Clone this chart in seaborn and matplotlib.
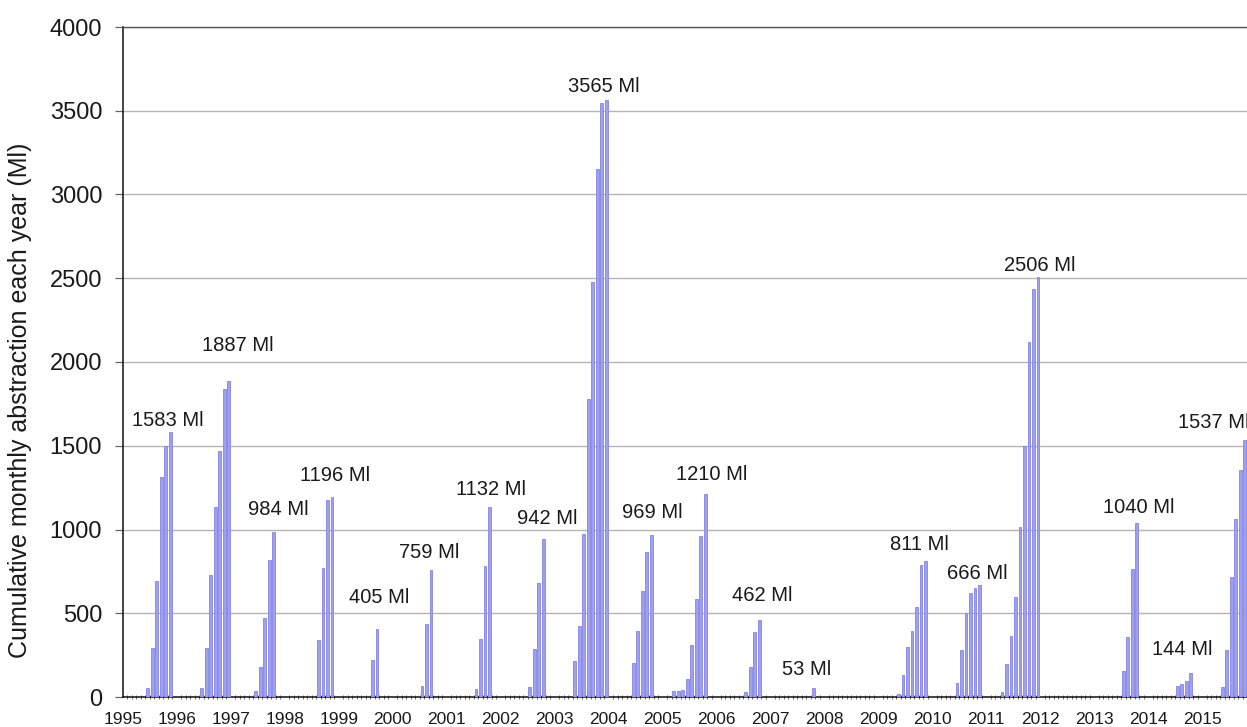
import numpy as np
import pandas as pd
import matplotlib
matplotlib.use("Agg")
import matplotlib.pyplot as plt
from matplotlib.ticker import MultipleLocator
import seaborn as sns

# Cumulative monthly abstraction (Ml), Jan..Dec for each year
years = list(range(1995, 2016))
abs_1995 = [0, 0, 0, 0, 0, 55, 290, 690, 1315, 1500, 1583, 0]
abs_1996 = [0, 0, 0, 0, 0, 55, 290, 728, 1134, 1469, 1839, 1887]
abs_1997 = [0, 0, 0, 0, 0, 35, 179, 472, 818, 984, 0, 0]
abs_1998 = [0, 0, 0, 0, 0, 0, 0, 340, 770, 1176, 1196, 0]
abs_1999 = [0, 0, 0, 0, 0, 0, 0, 221, 405, 0, 0, 0]
abs_2000 = [0, 0, 0, 0, 0, 0, 66, 436, 759, 0, 0, 0]
abs_2001 = [0, 0, 0, 0, 0, 0, 48, 346, 782, 1132, 0, 0]
abs_2002 = [0, 0, 0, 0, 0, 0, 60, 285, 680, 942, 0, 0]
abs_2003 = [0, 0, 0, 0, 215, 425, 975, 1782, 2475, 3150, 3545, 3565]
abs_2004 = [0, 0, 0, 0, 0, 201, 394, 635, 864, 969, 0, 0]
abs_2005 = [0, 0, 35, 37, 40, 105, 310, 585, 961, 1210, 0, 0]
abs_2006 = [0, 0, 0, 0, 0, 0, 31, 181, 386, 462, 0, 0]
abs_2007 = [0, 0, 0, 0, 0, 0, 0, 0, 0, 53, 0, 0]
abs_2008 = [0] * 12
abs_2009 = [0, 0, 0, 0, 20, 131, 300, 392, 535, 790, 811, 0]
abs_2010 = [0, 0, 0, 0, 0, 85, 280, 503, 619, 649, 666, 0]
abs_2011 = [0, 0, 0, 32, 197, 364, 595, 1013, 1498, 2121, 2436, 2506]
abs_2012 = [0] * 12
abs_2013 = [0, 0, 0, 0, 0, 0, 157, 356, 767, 1040, 0, 0]
abs_2014 = [0, 0, 0, 0, 0, 0, 64, 75, 96, 144, 0, 0]
abs_2015 = [0, 0, 0, 0, 60, 278, 715, 1060, 1355, 1537, 0, 0]

monthly = [abs_1995, abs_1996, abs_1997, abs_1998, abs_1999, abs_2000, abs_2001,
           abs_2002, abs_2003, abs_2004, abs_2005, abs_2006, abs_2007, abs_2008,
           abs_2009, abs_2010, abs_2011, abs_2012, abs_2013, abs_2014, abs_2015]

# label offsets (pixels) of the yearly total text from the top of the peak bar
label_dx = [-2, 9, 5, 3, 2, -2, 2, 4, -3, 1, 6, 3, -7, 0, -6, -2, 2, 0, 2, -9, -31]
label_dy = [11, 35, 23, 21, 32, 17, 18, 21, 13, 22, 20, 24, 19, 0, 17, 12, 12, 0, 15, 23, 17]

# build long table
rows = []
for yr, vals in zip(years, monthly):
    for m, v in enumerate(vals):
        if v > 0:
            rows.append({"t": yr + (m + 0.5) / 12, "ml": v})
df = pd.DataFrame(rows)

sns.set_theme(style="white")
plt.rcParams["font.family"] = ["Liberation Sans", "DejaVu Sans"]

fig = plt.figure(figsize=(12.47, 7.27), dpi=100)
ax = fig.add_axes([123 / 1247, 30 / 727, 1 - 123 / 1247, 670 / 727])

sns.barplot(data=df, x="t", y="ml", native_scale=True, width=0.62,
            color="#a0a0f2", edgecolor="#8484e6", linewidth=0.6,
            saturation=1, errorbar=None, ax=ax, zorder=3)

# yearly totals
for i, (yr, vals) in enumerate(zip(years, monthly)):
    peak = max(vals)
    if peak == 0:
        continue
    m = int(np.argmax(vals))
    ax.annotate(f"{peak} Ml", xy=(yr + (m + 0.5) / 12, peak),
                xytext=(label_dx[i], label_dy[i]), textcoords="offset pixels",
                ha="center", va="center", fontsize=14.5, color="#1a1a1a",
                annotation_clip=False)

ax.set_xlim(1995, 2015 + 10 / 12)
ax.set_ylim(0, 4000)
ax.xaxis.set_major_locator(MultipleLocator(1))
ax.xaxis.set_minor_locator(MultipleLocator(1 / 12))
ax.set_xticks(years)
ax.set_xticklabels([str(y) for y in years])
ax.yaxis.set_major_locator(MultipleLocator(500))

ax.grid(axis="y", color="#b5b5b5", linewidth=1, zorder=0)
ax.grid(axis="x", visible=False)
ax.set_axisbelow(True)

ax.tick_params(axis="x", which="major", direction="in", length=6, width=0.9,
               color="#444444", pad=11, labelsize=12.5, labelcolor="#1a1a1a")
ax.tick_params(axis="x", which="minor", direction="inout", length=3.5, width=0.6,
               color="#555555", bottom=True)
ax.tick_params(axis="y", which="major", direction="out", length=6, width=0.9,
               color="#666666", pad=9, labelsize=17, labelcolor="#1a1a1a", left=True)

for side in ["left", "bottom"]:
    ax.spines[side].set_color("#111111")
    ax.spines[side].set_linewidth(1.1)
ax.spines["top"].set_color("#555555")
ax.spines["top"].set_linewidth(1.0)
ax.spines["right"].set_visible(False)

ax.set_xlabel("")
ax.set_ylabel("Cumulative monthly abstraction each year (Ml)", fontsize=18,
              color="#1a1a1a")
ax.yaxis.set_label_coords(-0.081, 0.4425)

fig.savefig("out.png", dpi=100)
